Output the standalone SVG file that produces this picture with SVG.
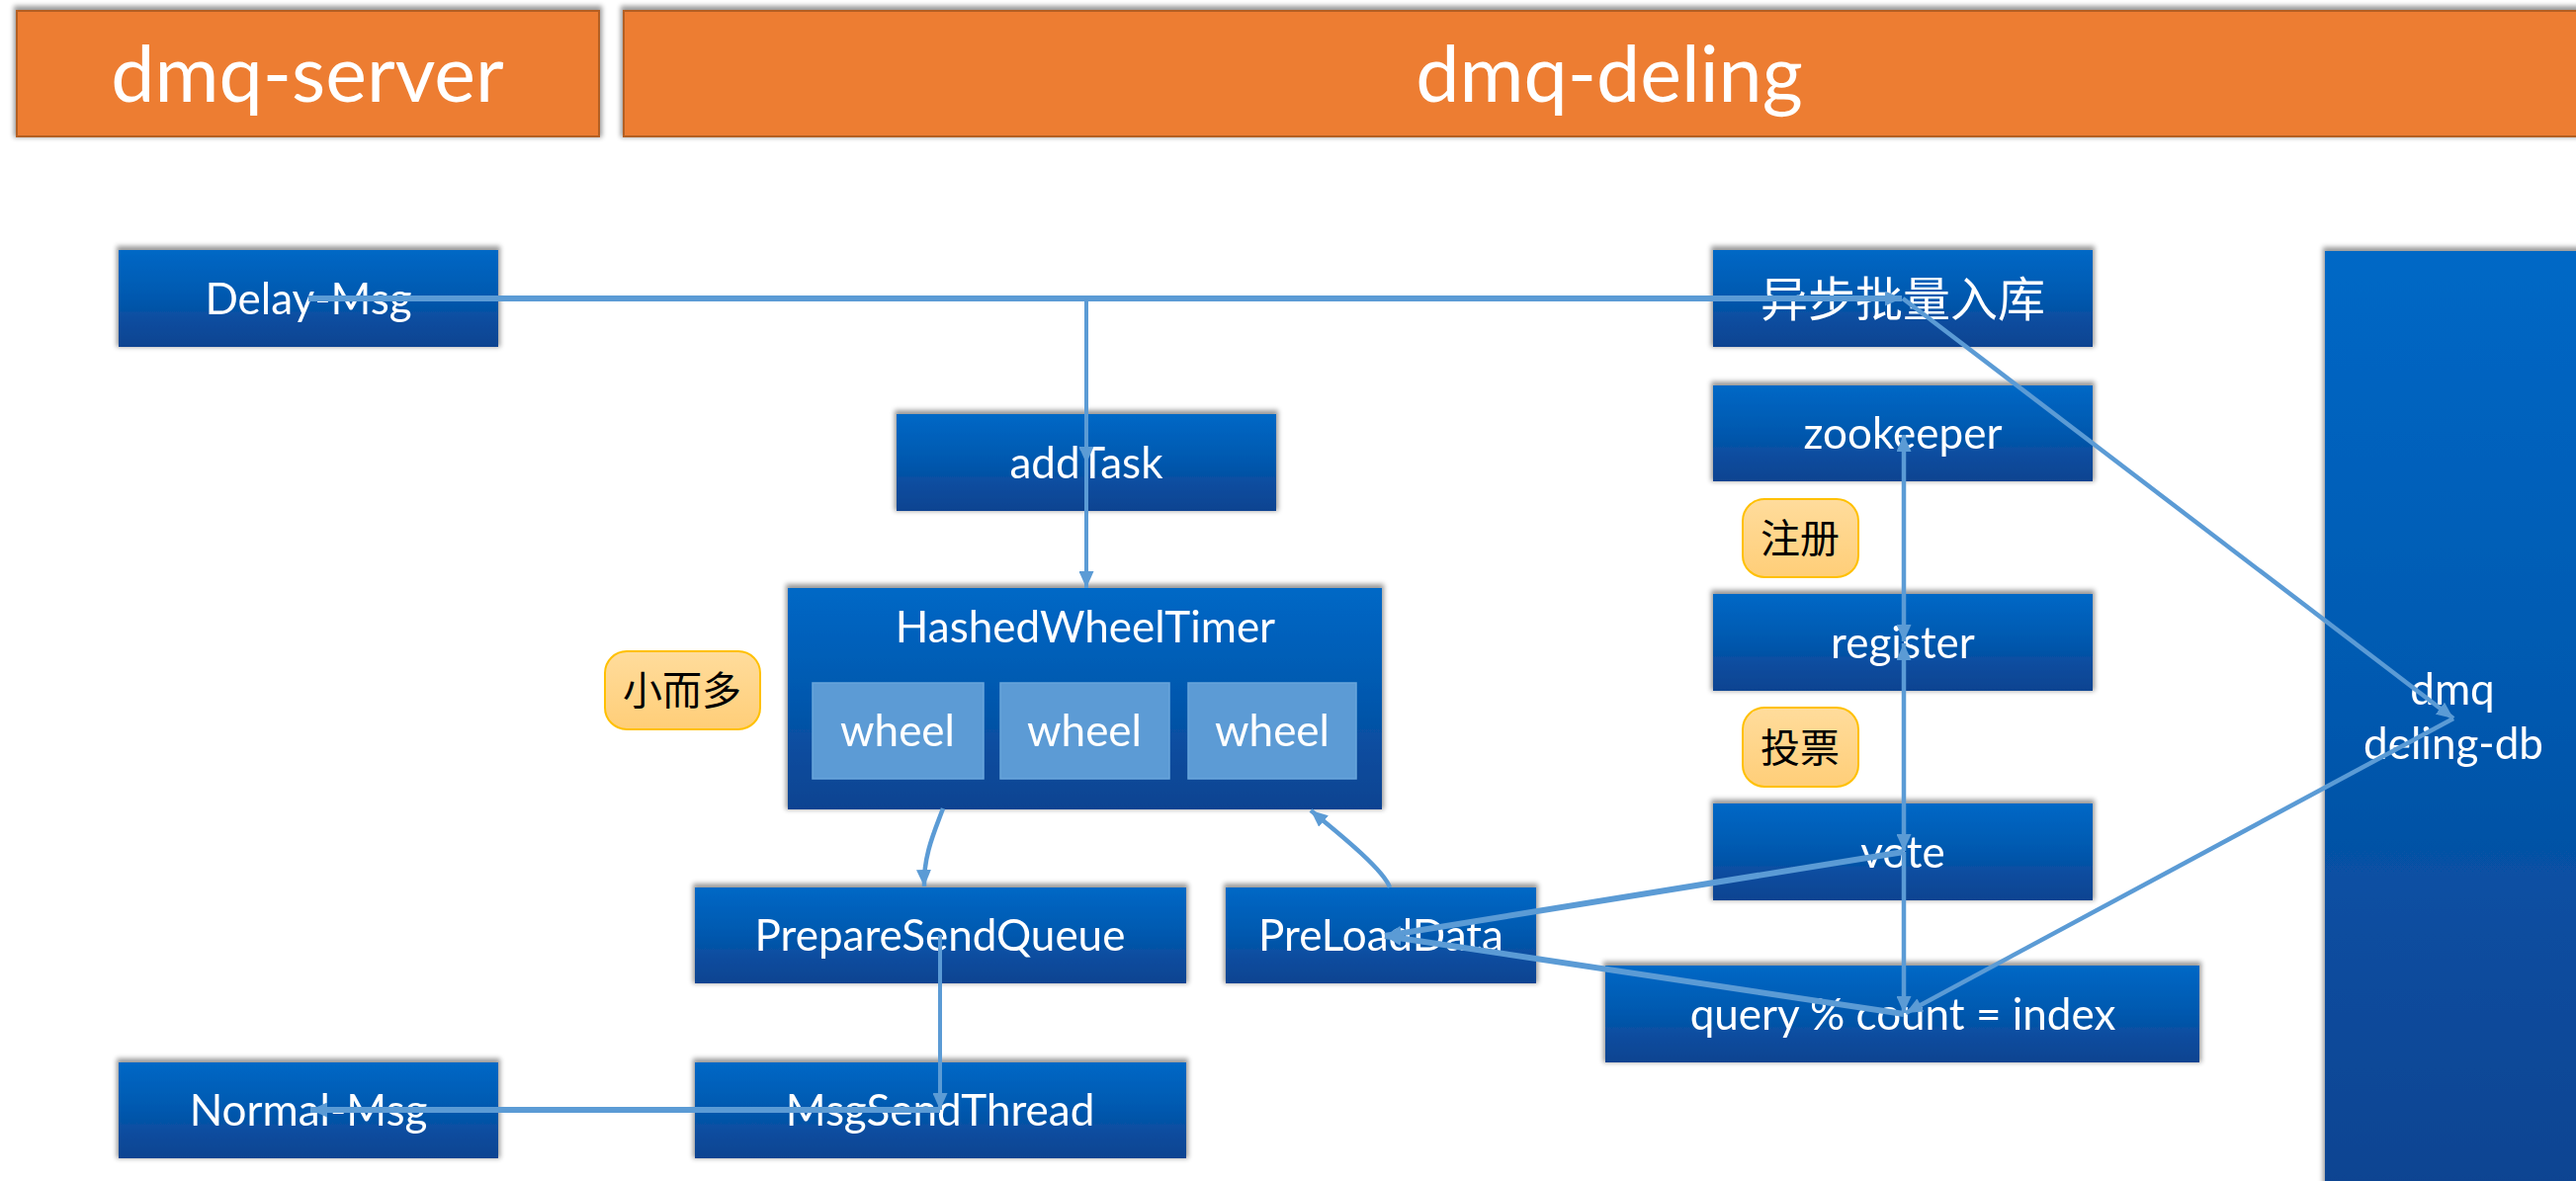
<svg xmlns="http://www.w3.org/2000/svg" width="2606" height="1195" viewBox="0 0 2606 1195">
<style>
.hdr{fill:#ED7D31;stroke:#B45F22;stroke-width:2}
.htxt{font-family:Lato,"Liberation Sans",sans-serif;font-size:79px;fill:#fff;text-anchor:middle}
.node{fill:url(#blue)}
.ntxt{font-family:Lato,"Liberation Sans",sans-serif;font-size:44px;fill:#fff;text-anchor:middle}
.cjk{font-family:Lato,"Noto Sans CJK SC",sans-serif;text-anchor:middle}
.wheel{fill:#5B9BD5;stroke:#6AA6DC;stroke-width:1.5}
.badge{fill:url(#orange);stroke:#FFC000;stroke-width:2}
.btxt{font-family:"Noto Sans CJK SC",sans-serif;font-size:40px;fill:#000;text-anchor:middle}
.c{fill:none;stroke:#5B9BD5;stroke-width:4.5}
.thick{stroke-width:6}
.thin{stroke-width:4}
</style>
<defs>
<linearGradient id="blue" x1="0" y1="0" x2="0" y2="1">
<stop offset="0" stop-color="#0068C6"/>
<stop offset="0.5" stop-color="#0058AE"/>
<stop offset="0.72" stop-color="#0A4D9F"/>
<stop offset="1" stop-color="#0D4391"/>
</linearGradient>
<linearGradient id="orange" x1="0" y1="0" x2="0" y2="1">
<stop offset="0" stop-color="#FFDC9C"/>
<stop offset="1" stop-color="#FFCE78"/>
</linearGradient>
<filter id="sh" x="-10%" y="-20%" width="120%" height="140%">
<feMorphology in="SourceAlpha" operator="dilate" radius="2" result="d"/>
<feOffset in="d" dy="-2" result="o"/>
<feGaussianBlur in="o" stdDeviation="2.5" result="b"/>
<feFlood flood-color="#000" flood-opacity="0.4"/>
<feComposite in2="b" operator="in" result="s"/>
<feMerge><feMergeNode in="s"/><feMergeNode in="SourceGraphic"/></feMerge>
</filter>
<marker id="ah" markerUnits="userSpaceOnUse" markerWidth="18" markerHeight="15" refX="17" refY="7.5" orient="auto-start-reverse">
<path d="M0,0 L17,7.5 L0,15 z" fill="#5B9BD5"/>
</marker>
</defs>
<rect width="2606" height="1195" fill="#fff"/>

<g id="hdr-server" filter="url(#sh)">
<rect class="hdr" x="17" y="11" width="589" height="127"/>
<text class="htxt" x="311" y="103">dmq-server</text>
</g>
<g id="hdr-deling" filter="url(#sh)">
<rect class="hdr" x="631" y="11" width="1994" height="127"/>
<text class="htxt" x="1628" y="103">dmq-deling</text>
</g>

<g id="delay-msg" filter="url(#sh)">
<rect class="node" x="120" y="253" width="384" height="98"/>
<text class="ntxt" x="312" y="318">Delay-Msg</text>
</g>
<g id="addtask" filter="url(#sh)">
<rect class="node" x="907" y="419" width="384" height="98"/>
<text class="ntxt" x="1099" y="484">addTask</text>
</g>
<g id="hwt" filter="url(#sh)">
<rect class="node" x="797" y="595" width="601" height="224"/>
<text class="ntxt" x="1098" y="650">HashedWheelTimer</text>
<rect class="wheel" x="822" y="691" width="173" height="97"/>
<text class="ntxt" x="908" y="755">wheel</text>
<rect class="wheel" x="1012" y="691" width="171" height="97"/>
<text class="ntxt" x="1097" y="755">wheel</text>
<rect class="wheel" x="1202" y="691" width="170" height="97"/>
<text class="ntxt" x="1287" y="755">wheel</text>
</g>
<g id="badge-small">
<rect class="badge" x="612" y="659" width="157" height="79" rx="22"/>
<text class="btxt" x="690" y="713">小而多</text>
</g>
<g id="preparesendqueue" filter="url(#sh)">
<rect class="node" x="703" y="898" width="497" height="97"/>
<text class="ntxt" x="951" y="962">PrepareSendQueue</text>
</g>
<g id="preloaddata" filter="url(#sh)">
<rect class="node" x="1240" y="898" width="314" height="97"/>
<text class="ntxt" x="1397" y="962">PreLoadData</text>
</g>
<g id="msgsendthread" filter="url(#sh)">
<rect class="node" x="703" y="1075" width="497" height="97"/>
<text class="ntxt" x="951" y="1139">MsgSendThread</text>
</g>
<g id="normal-msg" filter="url(#sh)">
<rect class="node" x="120" y="1075" width="384" height="97"/>
<text class="ntxt" x="312" y="1139">Normal-Msg</text>
</g>
<g id="async-batch" filter="url(#sh)">
<rect class="node" x="1733" y="253" width="384" height="98"/>
<text class="cjk" x="1925" y="320" font-size="48" fill="#fff">异步批量入库</text>
</g>
<g id="zookeeper" filter="url(#sh)">
<rect class="node" x="1733" y="390" width="384" height="97"/>
<text class="ntxt" x="1925" y="454">zookeeper</text>
</g>
<g id="badge-reg">
<rect class="badge" x="1763" y="505" width="117" height="79" rx="22"/>
<text class="btxt" x="1821" y="559">注册</text>
</g>
<g id="register" filter="url(#sh)">
<rect class="node" x="1733" y="601" width="384" height="98"/>
<text class="ntxt" x="1925" y="666">register</text>
</g>
<g id="badge-vote">
<rect class="badge" x="1763" y="716" width="117" height="80" rx="22"/>
<text class="btxt" x="1821" y="771">投票</text>
</g>
<g id="vote" filter="url(#sh)">
<rect class="node" x="1733" y="813" width="384" height="98"/>
<text class="ntxt" x="1925" y="878">vote</text>
</g>
<g id="query" filter="url(#sh)">
<rect class="node" x="1624" y="977" width="601" height="98"/>
<text class="ntxt" x="1925" y="1042">query % count = index</text>
</g>
<g id="deling-db" filter="url(#sh)">
<rect class="node" x="2352" y="254" width="270" height="960"/>
<text class="ntxt" x="2481" y="713">dmq</text>
<text class="ntxt" x="2482" y="768">deling-db</text>
</g>

<g id="connectors">
<path class="c thick" d="M312,302 H1924" marker-end="url(#ah)"/>
<path class="c thin" d="M1099,302 V469" marker-end="url(#ah)"/>
<path class="c thin" d="M1099,469 V595" marker-end="url(#ah)"/>
<path class="c" d="M954,818 C946,840 934,865 935,897" marker-end="url(#ah)"/>
<path class="c" d="M1406,898 C1399,878 1345,836 1326,820" marker-end="url(#ah)"/>
<path class="c thin" d="M951,946 V1123" marker-end="url(#ah)"/>
<path class="c thick" d="M951,1123 H314" marker-end="url(#ah)"/>
<path class="c" d="M1925,302 L2482,727" marker-end="url(#ah)"/>
<path class="c" d="M2482,727 L1928,1025" marker-end="url(#ah)"/>
<path class="c" d="M1926,440 V649" marker-start="url(#ah)" marker-end="url(#ah)"/>
<path class="c" d="M1926,651 V861" marker-start="url(#ah)" marker-end="url(#ah)"/>
<path class="c" d="M1926,862 V1025" marker-end="url(#ah)"/>
<path class="c thick" d="M1926,862 L1401,947" marker-end="url(#ah)"/>
<path class="c thick" d="M1926,1026 L1401,947" marker-end="url(#ah)"/>
</g>
</svg>
